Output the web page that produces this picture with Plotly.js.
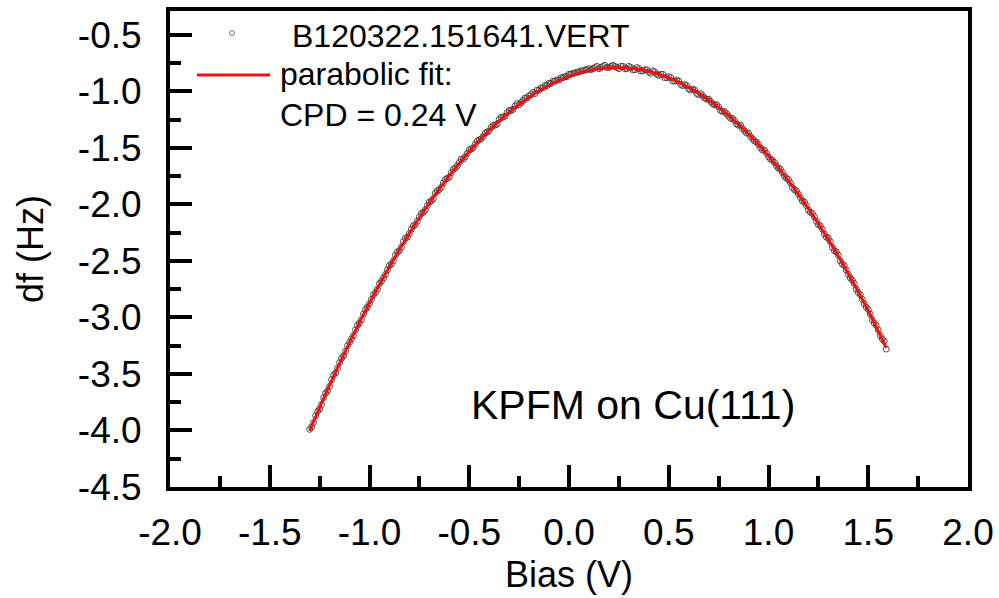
<!DOCTYPE html>
<html>
<head>
<meta charset="utf-8">
<script src="https://cdn.plot.ly/plotly-3.0.1.min.js"></script>
<style>html,body{margin:0;padding:0;background:#fff;}#chart{width:999px;height:598px;}</style>
</head>
<body>
<div id="chart"></div>
<script>
const biasSweepA = [
  -1.30,-1.28,-1.26,-1.24,-1.22,-1.20,-1.18,-1.16,-1.14,-1.12,
  -1.10,-1.08,-1.06,-1.04,-1.02,-1.00,-0.98,-0.96,-0.94,-0.92,
  -0.90,-0.88,-0.86,-0.84,-0.82,-0.80,-0.78,-0.76,-0.74,-0.72,
  -0.70,-0.68,-0.66,-0.64,-0.62,-0.60,-0.58,-0.56,-0.54,-0.52,
  -0.50,-0.48,-0.46,-0.44,-0.42,-0.40,-0.38,-0.36,-0.34,-0.32,
  -0.30,-0.28,-0.26,-0.24,-0.22,-0.20,-0.18,-0.16,-0.14,-0.12,
  -0.10,-0.08,-0.06,-0.04,-0.02,0.00,0.02,0.04,0.06,0.08,
  0.10,0.12,0.14,0.16,0.18,0.20,0.22,0.24,0.26,0.28,
  0.30,0.32,0.34,0.36,0.38,0.40,0.42,0.44,0.46,0.48,
  0.50,0.52,0.54,0.56,0.58,0.60,0.62,0.64,0.66,0.68,
  0.70,0.72,0.74,0.76,0.78,0.80,0.82,0.84,0.86,0.88,
  0.90,0.92,0.94,0.96,0.98,1.00,1.02,1.04,1.06,1.08,
  1.10,1.12,1.14,1.16,1.18,1.20,1.22,1.24,1.26,1.28,
  1.30,1.32,1.34,1.36,1.38,1.40,1.42,1.44,1.46,1.48,
  1.50,1.52,1.54,1.56,1.58,1.59
];
const dfSweepA = [
  -3.99,-3.93,-3.83,-3.77,-3.67,-3.61,-3.51,-3.45,-3.36,-3.30,
  -3.22,-3.16,-3.07,-3.02,-2.93,-2.88,-2.80,-2.75,-2.68,-2.62,
  -2.54,-2.50,-2.42,-2.38,-2.30,-2.26,-2.19,-2.15,-2.08,-2.05,
  -1.98,-1.95,-1.88,-1.85,-1.78,-1.76,-1.69,-1.66,-1.60,-1.58,
  -1.52,-1.50,-1.44,-1.42,-1.37,-1.35,-1.30,-1.29,-1.23,-1.22,
  -1.17,-1.16,-1.11,-1.10,-1.06,-1.04,-1.01,-0.99,-0.97,-0.95,
  -0.93,-0.91,-0.90,-0.88,-0.87,-0.85,-0.84,-0.83,-0.82,-0.81,
  -0.80,-0.80,-0.78,-0.79,-0.77,-0.79,-0.77,-0.79,-0.78,-0.80,
  -0.78,-0.81,-0.79,-0.82,-0.81,-0.83,-0.82,-0.85,-0.85,-0.88,
  -0.87,-0.91,-0.90,-0.94,-0.94,-0.98,-0.98,-1.02,-1.02,-1.06,
  -1.07,-1.11,-1.12,-1.17,-1.18,-1.22,-1.24,-1.29,-1.30,-1.35,
  -1.37,-1.42,-1.45,-1.50,-1.52,-1.58,-1.61,-1.66,-1.69,-1.75,
  -1.78,-1.85,-1.88,-1.94,-1.98,-2.05,-2.08,-2.15,-2.19,-2.26,
  -2.30,-2.38,-2.42,-2.50,-2.54,-2.62,-2.67,-2.75,-2.80,-2.88,
  -2.93,-3.02,-3.07,-3.16,-3.21,-3.28
];
// Measured data, sweep B (interleaved points)
const biasSweepB = [
  -1.29,-1.27,-1.25,-1.23,-1.21,-1.19,-1.17,-1.15,-1.13,-1.11,
  -1.09,-1.07,-1.05,-1.03,-1.01,-0.99,-0.97,-0.95,-0.93,-0.91,
  -0.89,-0.87,-0.85,-0.83,-0.81,-0.79,-0.77,-0.75,-0.73,-0.71,
  -0.69,-0.67,-0.65,-0.63,-0.61,-0.59,-0.57,-0.55,-0.53,-0.51,
  -0.49,-0.47,-0.45,-0.43,-0.41,-0.39,-0.37,-0.35,-0.33,-0.31,
  -0.29,-0.27,-0.25,-0.23,-0.21,-0.19,-0.17,-0.15,-0.13,-0.11,
  -0.09,-0.07,-0.05,-0.03,-0.01,0.01,0.03,0.05,0.07,0.09,
  0.11,0.13,0.15,0.17,0.19,0.21,0.23,0.25,0.27,0.29,
  0.31,0.33,0.35,0.37,0.39,0.41,0.43,0.45,0.47,0.49,
  0.51,0.53,0.55,0.57,0.59,0.61,0.63,0.65,0.67,0.69,
  0.71,0.73,0.75,0.77,0.79,0.81,0.83,0.85,0.87,0.89,
  0.91,0.93,0.95,0.97,0.99,1.01,1.03,1.05,1.07,1.09,
  1.11,1.13,1.15,1.17,1.19,1.21,1.23,1.25,1.27,1.29,
  1.31,1.33,1.35,1.37,1.39,1.41,1.43,1.45,1.47,1.49,
  1.51,1.53,1.55,1.57
];
const dfSweepB = [
  -3.97,-3.87,-3.81,-3.71,-3.65,-3.55,-3.49,-3.40,-3.34,-3.25,
  -3.19,-3.11,-3.05,-2.97,-2.91,-2.84,-2.78,-2.70,-2.65,-2.58,
  -2.53,-2.45,-2.41,-2.33,-2.29,-2.22,-2.18,-2.11,-2.07,-2.01,
  -1.97,-1.90,-1.87,-1.81,-1.77,-1.72,-1.68,-1.63,-1.60,-1.55,
  -1.51,-1.47,-1.43,-1.40,-1.36,-1.32,-1.30,-1.25,-1.23,-1.19,
  -1.17,-1.13,-1.12,-1.08,-1.06,-1.03,-1.02,-0.99,-0.97,-0.95,
  -0.93,-0.91,-0.90,-0.88,-0.87,-0.85,-0.84,-0.83,-0.82,-0.81,
  -0.81,-0.79,-0.80,-0.78,-0.79,-0.78,-0.78,-0.80,-0.78,-0.80,
  -0.79,-0.81,-0.80,-0.82,-0.81,-0.84,-0.83,-0.86,-0.85,-0.88,
  -0.88,-0.91,-0.91,-0.95,-0.95,-0.99,-0.99,-1.03,-1.04,-1.07,
  -1.09,-1.12,-1.14,-1.18,-1.20,-1.24,-1.26,-1.30,-1.33,-1.37,
  -1.40,-1.44,-1.47,-1.52,-1.55,-1.60,-1.63,-1.68,-1.72,-1.77,
  -1.81,-1.87,-1.91,-1.97,-2.01,-2.07,-2.11,-2.18,-2.22,-2.29,
  -2.33,-2.41,-2.45,-2.53,-2.58,-2.65,-2.70,-2.78,-2.84,-2.91,
  -2.97,-3.05,-3.11,-3.19
];
// Parabolic fit curve
const biasFit = [-1.3,-1.2,-1.1,-1.0,-0.9,-0.8,-0.7,-0.6,-0.5,-0.4,-0.3,-0.2,-0.1,0.0,0.1,0.2,0.3,0.4,0.5,0.6,0.7,0.8,0.9,1.0,1.1,1.2,1.3,1.4,1.5,1.59];
const dfFit = [-4.004,-3.600,-3.223,-2.873,-2.551,-2.256,-1.987,-1.746,-1.532,-1.345,-1.185,-1.052,-0.947,-0.868,-0.817,-0.792,-0.795,-0.825,-0.882,-0.966,-1.077,-1.215,-1.380,-1.573,-1.792,-2.039,-2.312,-2.613,-2.941,-3.270];

const xTickVals = [-2.0,-1.5,-1.0,-0.5,0.0,0.5,1.0,1.5,2.0];
const xTickText = ['-2.0','-1.5','-1.0','-0.5','0.0','0.5','1.0','1.5','2.0'];
const yTickVals = [-4.5,-4.0,-3.5,-3.0,-2.5,-2.0,-1.5,-1.0,-0.5];
const yTickText = ['-4.5','-4.0','-3.5','-3.0','-2.5','-2.0','-1.5','-1.0','-0.5'];

const seriesName = 'B120322.151641.VERT';
const fitName = 'parabolic fit:';
const fitNote = 'CPD = 0.24 V';
const sampleNote = 'KPFM on Cu(111)';

const FONT = '"Liberation Sans", Arial, sans-serif';

const markerStyle = {symbol: 'circle-open', size: 6, color: '#3a3a3a', line: {width: 0.9, color: '#3a3a3a'}};
const traces = [
  {x: biasSweepA, y: dfSweepA, type: 'scatter', mode: 'markers', name: seriesName, marker: markerStyle, showlegend: false},
  {x: biasSweepB, y: dfSweepB, type: 'scatter', mode: 'markers', name: seriesName, marker: markerStyle, showlegend: false},
  {x: biasFit, y: dfFit, type: 'scatter', mode: 'lines', name: fitName,
   line: {color: '#ee1111', width: 3, shape: 'spline', smoothing: 1}, showlegend: false}
];

const axisCommon = {
  showline: true, linewidth: 4, linecolor: '#000', mirror: true,
  ticks: 'inside', ticklen: 22, tickwidth: 4, tickcolor: '#000',
  showgrid: false, zeroline: false,
  tickfont: {family: FONT, size: 37, color: '#000'},
  tickmode: 'array'
};

const layout = {
  width: 999, height: 598,
  margin: {l: 170, r: 31, t: 11, b: 111},
  paper_bgcolor: '#fff', plot_bgcolor: '#fff',
  showlegend: false,
  xaxis: Object.assign({}, axisCommon, {
    range: [-2.0, 2.0], tickvals: xTickVals, ticktext: xTickText,
    ticklabelstandoff: 10,
    minor: {ticks: 'inside', ticklen: 11, tickwidth: 4, tickcolor: '#000', dtick: 0.25, tick0: 0, showgrid: false},
    title: {text: 'Bias (V)', font: {family: FONT, size: 36, color: '#000'}, standoff: 10}
  }),
  yaxis: Object.assign({}, axisCommon, {
    range: [-4.5, -0.29], tickvals: yTickVals, ticktext: yTickText,
    ticklabelstandoff: 17,
    minor: {ticks: 'inside', ticklen: 11, tickwidth: 4, tickcolor: '#000', dtick: 0.25, tick0: 0, showgrid: false},
    title: {text: 'df (Hz)', font: {family: FONT, size: 36, color: '#000'}, standoff: 24}
  }),
  shapes: [
    {type: 'line', xref: 'paper', yref: 'paper', x0: (197-170)/798, x1: (270-170)/798, y0: (487-75)/476, y1: (487-75)/476,
     line: {color: '#ee1111', width: 3}},
    {type: 'circle', xref: 'paper', yref: 'paper', x0: (229.5-170)/798, x1: (234.5-170)/798, y0: (487-30.5)/476, y1: (487-35.5)/476,
     line: {color: '#555', width: 0.8}}
  ],
  annotations: [
    {xref: 'paper', yref: 'paper', x: (290-170)/798, y: (487-36)/476, xanchor: 'left', yanchor: 'middle', showarrow: false,
     text: seriesName, font: {family: FONT, size: 32, color: '#000'}},
    {xref: 'paper', yref: 'paper', x: (278-170)/798, y: (487-74)/476, xanchor: 'left', yanchor: 'middle', showarrow: false,
     text: fitName, font: {family: FONT, size: 32, color: '#000'}},
    {xref: 'paper', yref: 'paper', x: (278-170)/798, y: (487-115)/476, xanchor: 'left', yanchor: 'middle', showarrow: false,
     text: fitNote, font: {family: FONT, size: 32, color: '#000'}},
    {xref: 'paper', yref: 'paper', x: (633-170)/798, y: (487-405)/476, xanchor: 'center', yanchor: 'middle', showarrow: false,
     text: sampleNote, font: {family: FONT, size: 41, color: '#000'}}
  ]
};

Plotly.newPlot('chart', traces, layout, {displayModeBar: false, staticPlot: true});
</script>
</body>
</html>
